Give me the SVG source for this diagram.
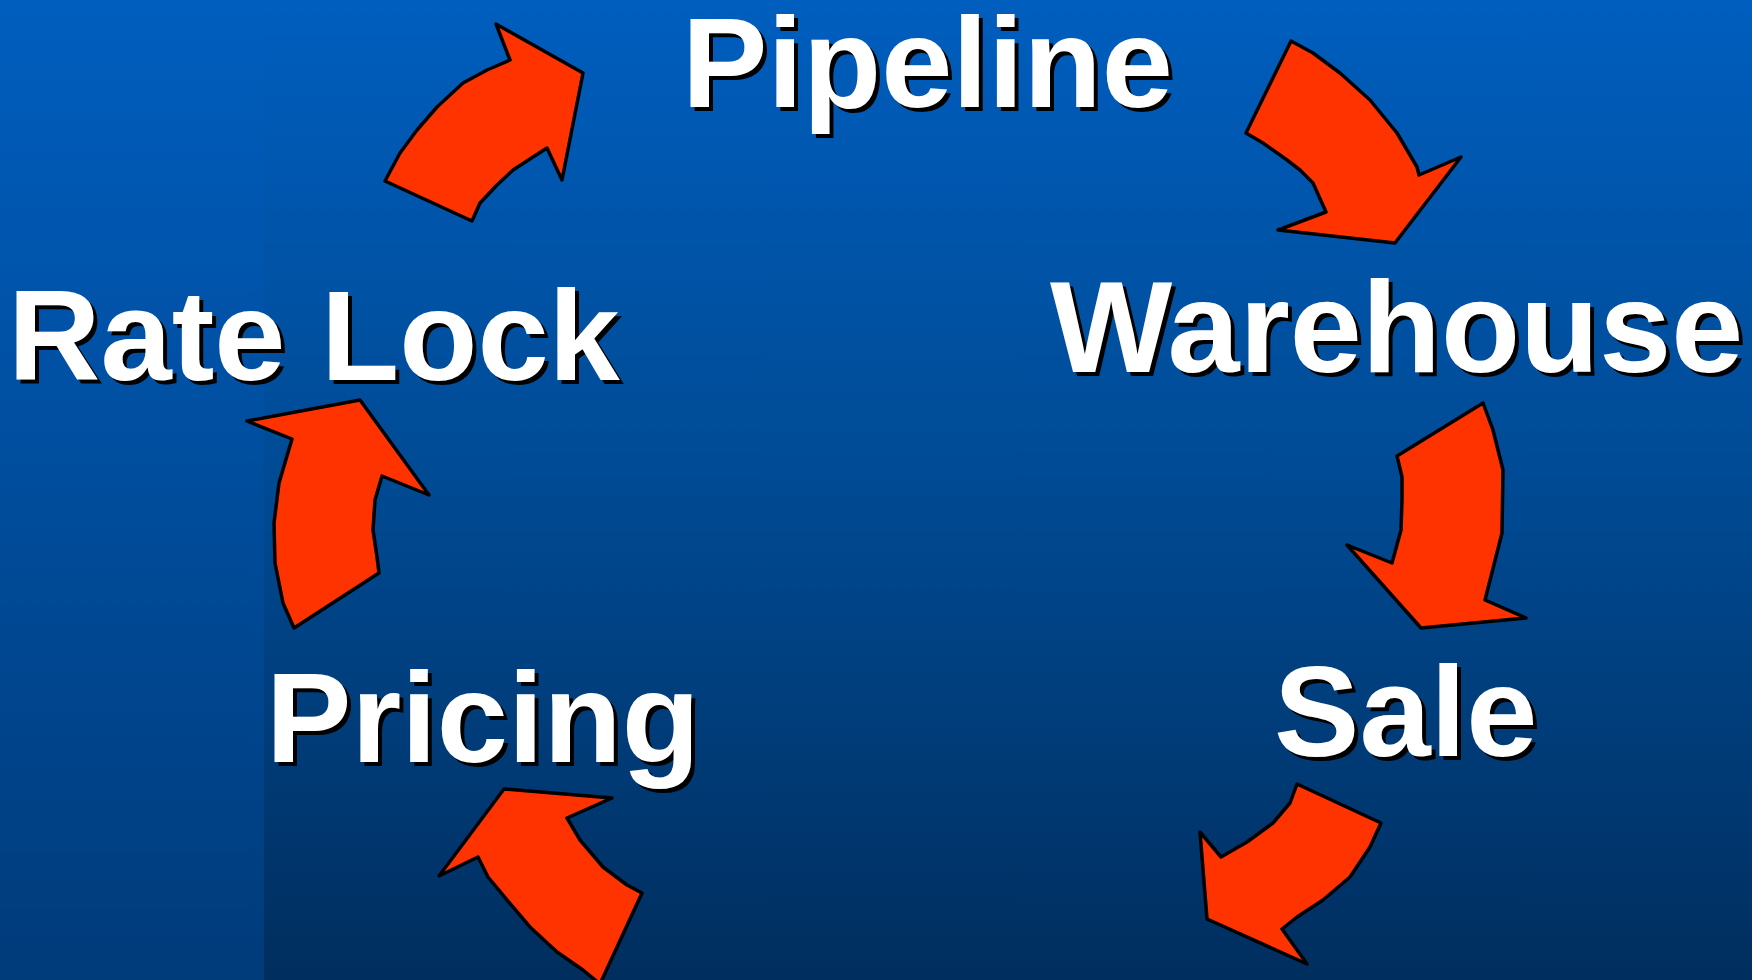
<svg xmlns="http://www.w3.org/2000/svg" width="1752" height="980" viewBox="0 0 1752 980">
  <defs>
    <linearGradient id="bgMain" x1="0" y1="0" x2="0" y2="1">
      <stop offset="0" stop-color="#005EBE"/>
      <stop offset="0.5" stop-color="#004A93"/>
      <stop offset="1" stop-color="#002E5E"/>
    </linearGradient>
    <linearGradient id="bgStrip" x1="0" y1="0" x2="0" y2="1">
      <stop offset="0" stop-color="#005EBE"/>
      <stop offset="1" stop-color="#003B7A"/>
    </linearGradient>
  </defs>
  <style>
    .label { font-family: "Liberation Sans", Arial, sans-serif; font-weight: bold; font-size: 128px; }
    .wide { font-size: 129.5px; }
    .shadow { fill: #000000; }
    .face { fill: #FFFFFF; }
    .arrow { fill: #FF3300; stroke: #000000; stroke-width: 3.5; stroke-linejoin: round; }
  </style>

  <!-- background -->
  <rect x="0" y="0" width="1752" height="980" fill="url(#bgMain)"/>
  <rect x="0" y="0" width="264" height="980" fill="url(#bgStrip)"/>

  <!-- stage labels -->
  <g id="node-pipeline" class="label">
    <text class="shadow" x="686" y="111">Pipeline</text>
    <text class="face" x="682" y="107">Pipeline</text>
  </g>
  <g id="node-warehouse" class="label wide">
    <text class="shadow" x="1054" y="376">Warehouse</text>
    <text class="face" x="1050" y="372">Warehouse</text>
  </g>
  <g id="node-sale" class="label">
    <text class="shadow" x="1278" y="760">Sale</text>
    <text class="face" x="1274" y="756">Sale</text>
  </g>
  <g id="node-pricing" class="label">
    <text class="shadow" x="270" y="766">Pricing</text>
    <text class="face" x="266" y="762">Pricing</text>
  </g>
  <g id="node-ratelock" class="label">
    <text class="shadow" x="12" y="384">Rate Lock</text>
    <text class="face" x="8" y="380">Rate Lock</text>
  </g>

  <!-- curved block arrows running clockwise between the stages -->
  <g id="connectors">
    <!-- Rate Lock -> Pipeline -->
    <path class="arrow" d="M385,181 L472,221 L480,203 L497,185 L513,170 L533,157 L547,148 L562,180 L583,73 L496,24 L510,60 L487,70 L463,83 L437,107 L417,130 L400,153 Z"/>
    <!-- Pipeline -> Warehouse -->
    <path class="arrow" d="M1291,41 L1313,53 L1340,73 L1370,100 L1397,133 L1417,167 L1419,175 L1461,157 L1395,243 L1278,230 L1326,212 L1313,183 L1300,170 L1287,160 L1263,143 L1246,133 Z"/>
    <!-- Warehouse -> Sale -->
    <path class="arrow" d="M1483,403 L1397,456 L1402,477 L1402,500 L1401,530 L1392,563 L1347,545 L1421,628 L1526,618 L1485,600 L1502,533 L1503,470 L1493,430 Z"/>
    <!-- Sale -> Pricing -->
    <path class="arrow" d="M1297,784 L1381,823 L1370,847 L1350,877 L1323,900 L1297,917 L1282,929 L1307,964 L1207,919 L1200,832 L1221,857 L1247,842 L1273,823 L1290,803 Z"/>
    <!-- Pricing -> Rate Lock (tail runs off the bottom edge) -->
    <path class="arrow" d="M504,789 L612,798 L567,818 L580,840 L603,867 L627,885 L642,893 L600,984 L583,970 L557,952 L530,927 L507,900 L488,877 L478,857 L439,876 Z"/>
    <!-- Pricing side up into Rate Lock -->
    <path class="arrow" d="M360,400 L429,495 L382,476 L375,500 L373,530 L377,557 L379,573 L294,628 L283,603 L275,563 L274,523 L279,483 L292,439 L247,421 Z"/>
  </g>
</svg>
